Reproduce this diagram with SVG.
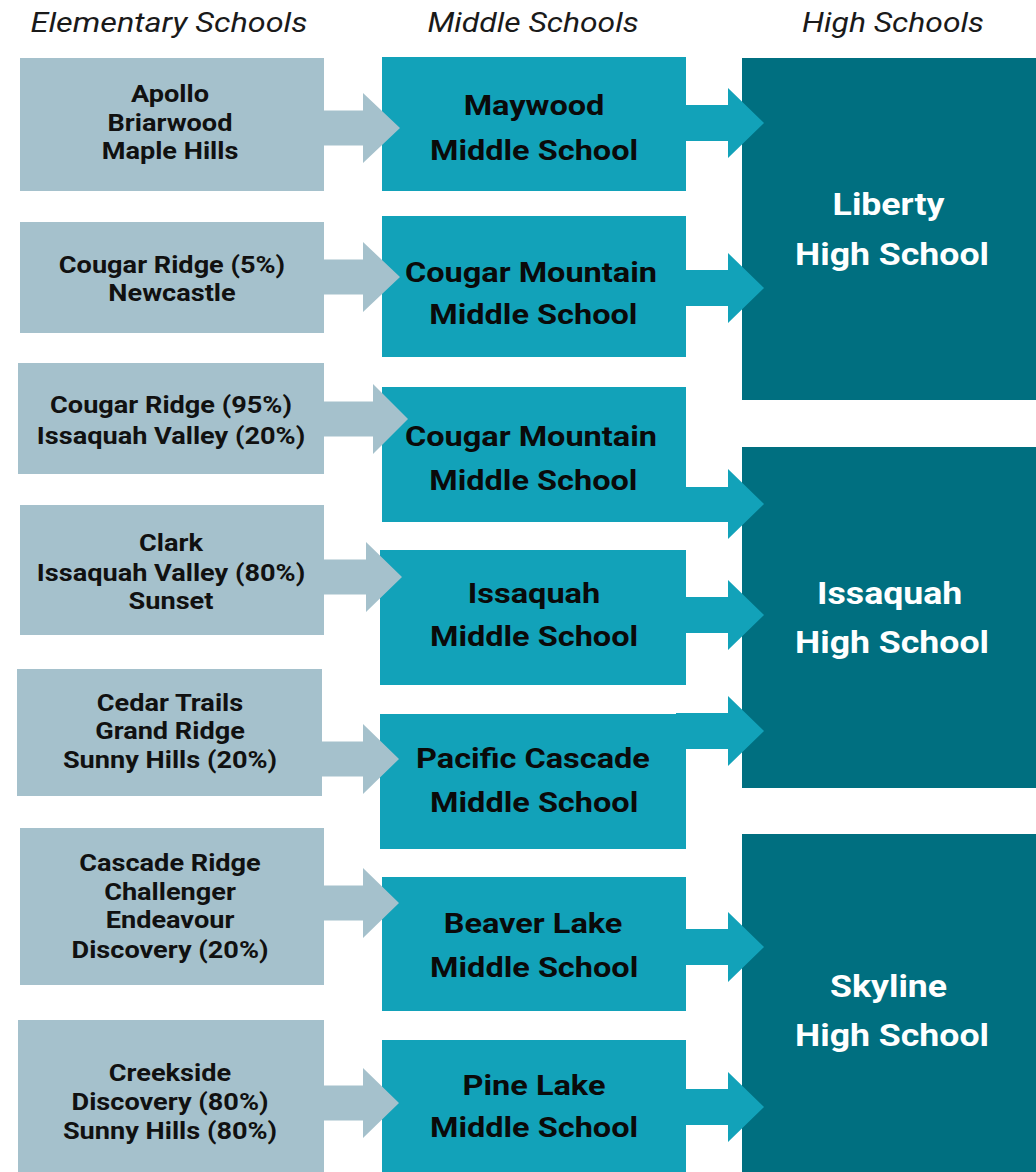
<svg xmlns="http://www.w3.org/2000/svg" width="1036" height="1172" viewBox="0 0 1036 1172">
<style>
.hdr{font-family:Roboto,"Liberation Sans",sans-serif;font-style:italic;font-size:27px;fill:#1a1a1a;text-anchor:middle}
.el{fill:#A5C1CC}
.ms{fill:#12A2B9}
.hs{fill:#006F80}
.et{font-family:Roboto,"Liberation Sans",sans-serif;font-weight:bold;font-size:23px;fill:#111;text-anchor:middle}
.mt{font-family:Roboto,"Liberation Sans",sans-serif;font-weight:bold;font-size:28px;fill:#0a0a0a;text-anchor:middle}
.ht{font-family:Roboto,"Liberation Sans",sans-serif;font-weight:bold;font-size:31px;fill:#ffffff;text-anchor:middle}
.la{fill:#A5C1CC}
.ma{fill:#12A2B9}
</style>
<rect width="1036" height="1172" fill="#ffffff"/>
<g id="headers">
<text class="hdr" transform="translate(169,0) scale(1.2,1)" x="0" y="32">Elementary Schools</text>
<text class="hdr" transform="translate(533,0) scale(1.18,1)" x="0" y="32">Middle Schools</text>
<text class="hdr" transform="translate(893,0) scale(1.18,1)" x="0" y="32">High Schools</text>
</g>
<g id="elem1"><rect class="el" x="20" y="58" width="304" height="133"/>
<g class="et" transform="translate(170,0) scale(1.18,1)"><text x="0" y="102">Apollo</text><text x="0" y="131">Briarwood</text><text x="0" y="159">Maple Hills</text></g></g>
<g id="elem2"><rect class="el" x="20" y="222" width="304" height="111"/>
<g class="et" transform="translate(172,0) scale(1.18,1)"><text x="0" y="273">Cougar Ridge (5%)</text><text x="0" y="301">Newcastle</text></g></g>
<g id="elem3"><rect class="el" x="18" y="363" width="306" height="111"/>
<g class="et" transform="translate(171,0) scale(1.18,1)"><text x="0" y="413">Cougar Ridge (95%)</text><text x="0" y="444">Issaquah Valley (20%)</text></g></g>
<g id="elem4"><rect class="el" x="20" y="505" width="304" height="130"/>
<g class="et" transform="translate(171,0) scale(1.18,1)"><text x="0" y="551">Clark</text><text x="0" y="581">Issaquah Valley (80%)</text><text x="0" y="609">Sunset</text></g></g>
<g id="elem5"><rect class="el" x="17" y="669" width="305" height="127"/>
<g class="et" transform="translate(170,0) scale(1.18,1)"><text x="0" y="711">Cedar Trails</text><text x="0" y="739">Grand Ridge</text><text x="0" y="768">Sunny Hills (20%)</text></g></g>
<g id="elem6"><rect class="el" x="20" y="828" width="304" height="157"/>
<g class="et" transform="translate(170,0) scale(1.18,1)"><text x="0" y="871">Cascade Ridge</text><text x="0" y="900">Challenger</text><text x="0" y="928">Endeavour</text><text x="0" y="958">Discovery (20%)</text></g></g>
<g id="elem7"><rect class="el" x="18" y="1020" width="306" height="152"/>
<g class="et" transform="translate(170,0) scale(1.18,1)"><text x="0" y="1081">Creekside</text><text x="0" y="1110">Discovery (80%)</text><text x="0" y="1139">Sunny Hills (80%)</text></g></g>
<g id="mid1"><rect class="ms" x="382" y="57" width="304" height="134"/>
<g class="mt" transform="translate(534,0) scale(1.16,1)"><text x="0" y="115">Maywood</text><text x="0" y="160">Middle School</text></g></g>
<g id="mid2"><rect class="ms" x="382" y="216" width="304" height="141"/>
<g class="mt" transform="translate(531,0) scale(1.16,1)"><text x="0" y="282">Cougar Mountain</text><text x="2" y="324">Middle School</text></g></g>
<g id="mid3"><rect class="ms" x="382" y="387" width="304" height="135"/>
<g class="mt" transform="translate(531,0) scale(1.16,1)"><text x="0" y="446">Cougar Mountain</text><text x="2" y="490">Middle School</text></g></g>
<g id="mid4"><rect class="ms" x="380" y="550" width="306" height="135"/>
<g class="mt" transform="translate(534,0) scale(1.16,1)"><text x="0" y="603">Issaquah</text><text x="0" y="646">Middle School</text></g></g>
<g id="mid5"><rect class="ms" x="380" y="714" width="306" height="135"/>
<g class="mt" transform="translate(533,0) scale(1.16,1)"><text x="0" y="768">Pacific Cascade</text><text x="1" y="812">Middle School</text></g></g>
<g id="mid6"><rect class="ms" x="382" y="877" width="304" height="134"/>
<g class="mt" transform="translate(533,0) scale(1.16,1)"><text x="0" y="933">Beaver Lake</text><text x="1" y="977">Middle School</text></g></g>
<g id="mid7"><rect class="ms" x="382" y="1040" width="304" height="132"/>
<g class="mt" transform="translate(534,0) scale(1.16,1)"><text x="0" y="1095">Pine Lake</text><text x="0" y="1137">Middle School</text></g></g>
<g id="high1"><rect class="hs" x="742" y="58" width="294" height="342"/>
<g class="ht" transform="translate(892,0) scale(1.15,1)"><text x="-3" y="215">Liberty</text><text x="0" y="265">High School</text></g></g>
<g id="high2"><rect class="hs" x="742" y="447" width="294" height="341"/>
<g class="ht" transform="translate(892,0) scale(1.15,1)"><text x="-2" y="604">Issaquah</text><text x="0" y="653">High School</text></g></g>
<g id="high3"><rect class="hs" x="742" y="834" width="294" height="338"/>
<g class="ht" transform="translate(892,0) scale(1.15,1)"><text x="-3" y="997">Skyline</text><text x="0" y="1046">High School</text></g></g>
<g id="connectors">
<polygon class="la" points="324,110.5 363,110.5 363,93 400,128 363,163 363,145.5 324,145.5"/>
<polygon class="la" points="324,259.5 363,259.5 363,242 400,277 363,312 363,294.5 324,294.5"/>
<polygon class="la" points="324,401.5 373,401.5 373,384 408,419 373,454 373,436.5 324,436.5"/>
<polygon class="la" points="324,559.5 366,559.5 366,542 402,577 366,612 366,594.5 324,594.5"/>
<polygon class="la" points="322,741.5 363,741.5 363,724 399,759 363,794 363,776.5 322,776.5"/>
<polygon class="la" points="324,885.5 363,885.5 363,868 399,903 363,938 363,920.5 324,920.5"/>
<polygon class="la" points="324,1085.5 363,1085.5 363,1068 399,1103 363,1138 363,1120.5 324,1120.5"/>
<polygon class="ma" points="686,105 728,105 728,88 764,123 728,158 728,141 686,141"/>
<polygon class="ma" points="686,270 728,270 728,253 764,288 728,323 728,306 686,306"/>
<polygon class="ma" points="686,487 728,487 728,469 764,504 728,539 728,522 686,522"/>
<polygon class="ma" points="686,597 728,597 728,580 764,615 728,650 728,633 686,633"/>
<polygon class="ma" points="676,713 728,713 728,696 764,731 728,766 728,749 676,749"/>
<polygon class="ma" points="686,929 728,929 728,912 764,947 728,982 728,965 686,965"/>
<polygon class="ma" points="686,1089 728,1089 728,1072 764,1107 728,1142 728,1125 686,1125"/>
</g>
</svg>
